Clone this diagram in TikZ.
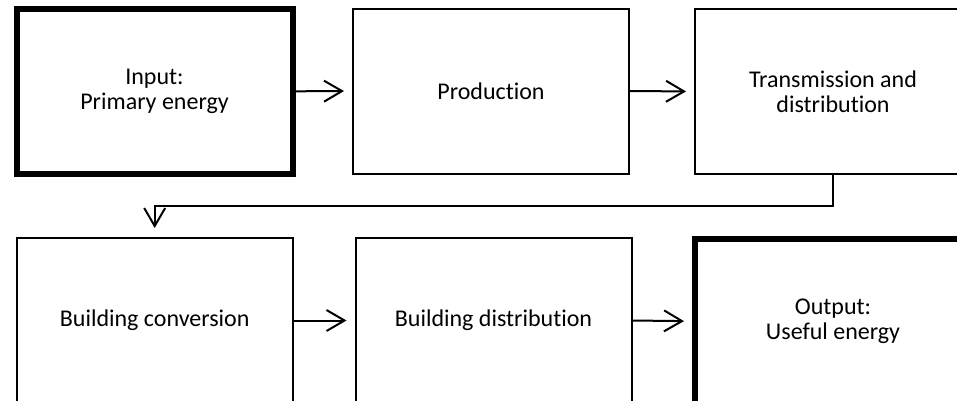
\documentclass[tikz,border=0pt]{standalone}
\usepackage{fontspec}
\setmainfont{Carlito}[Ligatures=NoCommon]
\usetikzlibrary{arrows.meta}
\begin{document}
\begin{tikzpicture}[x=1pt,y=-1pt,
  box/.style={draw=black,line width=2pt,rectangle,minimum width=276pt,minimum height=165pt,inner sep=0pt,align=center,font=\fontsize{24}{24.6}\selectfont},
  thickbox/.style={box,line width=6pt},
  arr/.style={line width=2pt,-{Straight Barb[length=18pt,width=21pt]}}]
\useasboundingbox (0,0) rectangle (957,400);
\clip (0,0) rectangle (957,400);
\fill[white] (0,0) rectangle (957,400);
\node[thickbox] (b1) at (154.5,91.3) {Input:\\Primary energy};
\node[box] (b2) at (491,91) {Production};
\node[box] (b3) at (833,91.5) {Transmission and\\distribution};
\node[box] (b4) at (154.7,320.5) {Building conversion};
\node[box] (b5) at (493.5,320.5) {Building distribution};
\node[thickbox] (b6) at (833,321.2) {Output:\\Useful energy};
\coordinate (turn) at (154.7,206);
\draw[arr,shorten >=8pt] (b1.east) -- (b2.west);
\draw[arr,shorten >=8pt] (b2.east) -- (b3.west);
\draw[arr,shorten >=9pt] (b3.south) |- (turn) -- (b4.north);
\draw[arr,shorten >=8pt] (b4.east) -- (b5.west);
\draw[arr,shorten >=8pt] (b5.east) -- (b6.west);
\end{tikzpicture}
\end{document}
